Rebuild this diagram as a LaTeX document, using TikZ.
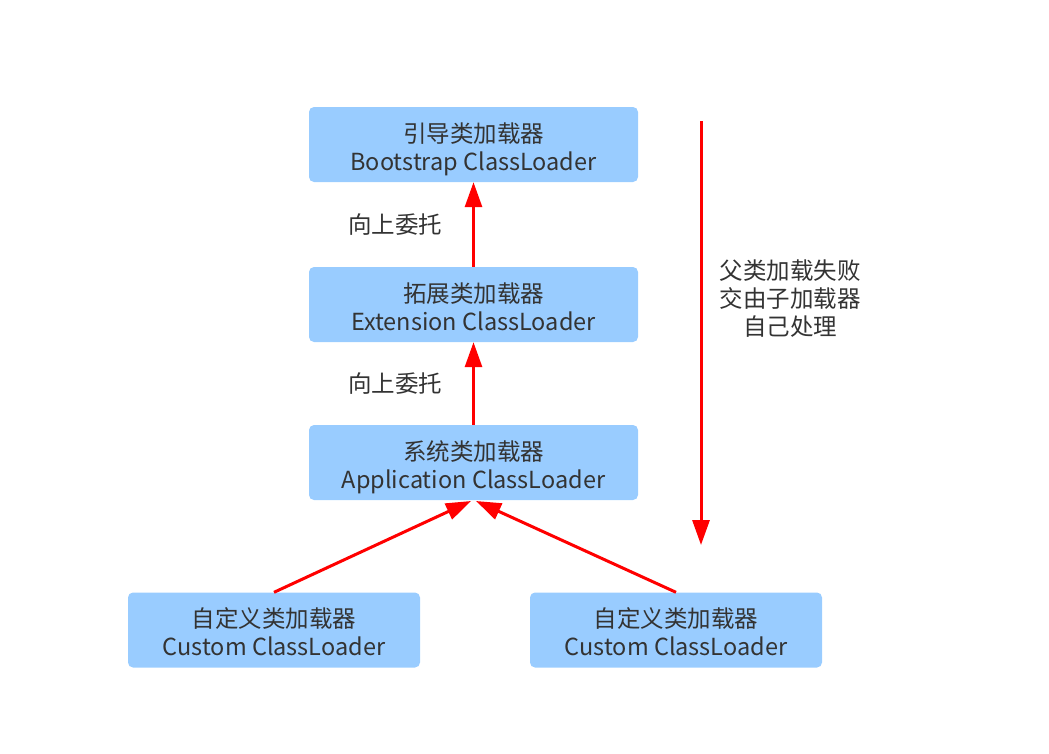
\documentclass[tikz,border=0pt]{standalone}
\usepackage{fontspec}
\setmainfont{Noto Sans CJK SC}
\usetikzlibrary{arrows.meta}
\definecolor{boxblue}{HTML}{99CCFF}
\definecolor{txt}{HTML}{333333}
\newcommand{\twoline}[2]{\raisebox{-6pt}[\height][\depth]{\begin{tabular}{@{}c@{}}#1\\#2\end{tabular}}}
\begin{document}
\begin{tikzpicture}[x=1pt,y=-1pt,
  box/.style={fill=boxblue, rounded corners=5pt, minimum height=75pt, inner sep=0pt, align=center, text=txt, font=\fontsize{23.5}{28}\selectfont},
  lbl/.style={text=txt, align=center, font=\fontsize{23.5}{28}\selectfont},
  redarrow/.style={draw=red, line width=3pt, -{Triangle[length=25pt,width=17pt]}}]
\useasboundingbox (0,0) rectangle (1049,753);
\node[box, minimum width=329pt] (boot) at (473.5,144.5) {\twoline{引导类加载器}{Bootstrap ClassLoader}};
\node[box, minimum width=329pt] (ext) at (473.5,304.5) {\twoline{拓展类加载器}{Extension ClassLoader}};
\node[box, minimum width=329pt] (app) at (473.5,462.5) {\twoline{系统类加载器}{Application ClassLoader}};
\node[box, minimum width=292pt] (c1) at (274,630) {\twoline{自定义类加载器}{Custom ClassLoader}};
\node[box, minimum width=292pt] (c2) at (676,630) {\twoline{自定义类加载器}{Custom ClassLoader}};
\draw[redarrow] (ext.north) -- (boot.south);
\draw[redarrow] (app.north) -- (ext.south);
\coordinate (t1) at (471,501);
\coordinate (t2) at (476,501);
\draw[redarrow] (c1.north) -- (t1);
\draw[redarrow] (c2.north) -- (t2);
\node[lbl] (l1) at (395,225) {向上委托};
\node[lbl] (l2) at (395,384) {向上委托};
\coordinate (rs) at (701,121);
\coordinate (re) at (701,545);
\draw[redarrow] (rs) -- (re);
\node[lbl] (note) at (790,299) {父类加载失败\\交由子加载器\\自己处理};
\end{tikzpicture}
\end{document}
